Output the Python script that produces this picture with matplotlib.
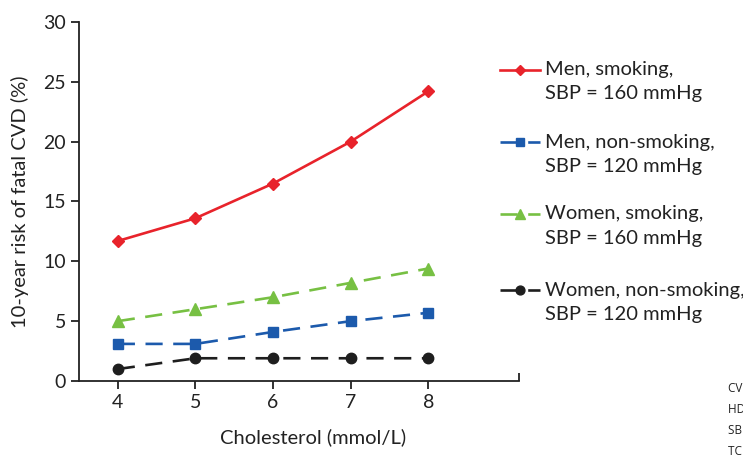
import matplotlib
matplotlib.use("Agg")
import matplotlib.pyplot as plt
from matplotlib.lines import Line2D

cholesterol = [4, 5, 6, 7, 8]
men_smoking = [11.7, 13.6, 16.5, 20.0, 24.2]
men_nonsmoking = [3.1, 3.1, 4.1, 5.0, 5.7]
women_smoking = [5.0, 6.0, 7.0, 8.2, 9.4]
women_nonsmoking = [1.0, 1.9, 1.9, 1.9, 1.9]
labels = [("Men, smoking,", "SBP = 160 mmHg"),
          ("Men, non-smoking,", "SBP = 120 mmHg"),
          ("Women, smoking,", "SBP = 160 mmHg"),
          ("Women, non-smoking,", "SBP = 120 mmHg")]
yticks = [0, 5, 10, 15, 20, 25, 30]

plt.rcParams['font.family'] = ['Lato', 'DejaVu Sans']

W, H = 743, 461
fig = plt.figure(figsize=(W/100, H/100), dpi=100)
ax = fig.add_axes([79/W, 1-381/H, (519-79)/W, (381-22)/H])

red = '#e8232b'
blue = '#1c5aac'
green = '#77c043'
black = '#1e1e1e'
dash = (0, (6.5, 4))

styles = [
    dict(color=red, ls='-', marker='D', ms=6.5),
    dict(color=blue, ls=dash, marker='s', ms=6.5),
    dict(color=green, ls=dash, marker='^', ms=9),
    dict(color=black, ls=dash, marker='o', ms=7.5),
]
series = [men_smoking, men_nonsmoking, women_smoking, women_nonsmoking]
for s, st in zip(series, styles):
    ax.plot(cholesterol, s, lw=1.9, clip_on=False, **st)

ax.set_xlim(3.5, 9.17)
ax.set_ylim(0, 30)
ax.set_xticks(cholesterol)
ax.set_yticks(yticks)
ax.spines['top'].set_visible(False)
ax.spines['right'].set_visible(False)
for sp in ('left', 'bottom'):
    ax.spines[sp].set_linewidth(1.3)
    ax.spines[sp].set_color('#222222')
ax.tick_params(axis='both', direction='out', length=6, width=1.3, colors='#222222',
               labelsize=14, labelcolor='#222222')
ax.set_xticks([9.17], minor=True)
ax.tick_params(axis='x', which='minor', direction='in', length=6, width=1.3, colors='#222222')
ax.set_xlabel("Cholesterol (mmol/L)", fontsize=14.5, color='#222222')
ax.xaxis.set_label_coords((313-79)/440, -(437-381)/359)
ax.xaxis.label.set_va('center')
ax.set_ylabel("10-year risk of fatal CVD (%)", fontsize=14.5, color='#222222', labelpad=10)

# legend drawn manually
leg_y = [70, 142, 214, 290]
for y, st, lab in zip(leg_y, styles, labels):
    fy = 1 - y/H
    fig.add_artist(Line2D([500/W, 540/W], [fy, fy], lw=1.9, color=st['color'], ls=st['ls'],
                          transform=fig.transFigure))
    fig.add_artist(Line2D([520/W], [fy], lw=0, color=st['color'], marker=st['marker'],
                          ms=st['ms']*0.85, transform=fig.transFigure))
    fig.text(545/W, fy, lab[0], fontsize=14.5, color='#222222', va='center', ha='left')
    fig.text(545/W, fy - 24/H, lab[1], fontsize=14.5, color='#222222', va='center', ha='left')

notes = ["CVD = cardiovascular disease;", "HDL = high-density lipoprotein;",
         "SBP = systolic blood pressure;", "TC = total cholesterol."]
for i, n in enumerate(notes):
    fig.text(728/W, 1 - (388 + 21*i)/H, n, fontsize=8.5, color='#222222', va='center',
             ha='left', family=['Open Sans', 'DejaVu Sans'])

fig.savefig("out.png", dpi=100)
